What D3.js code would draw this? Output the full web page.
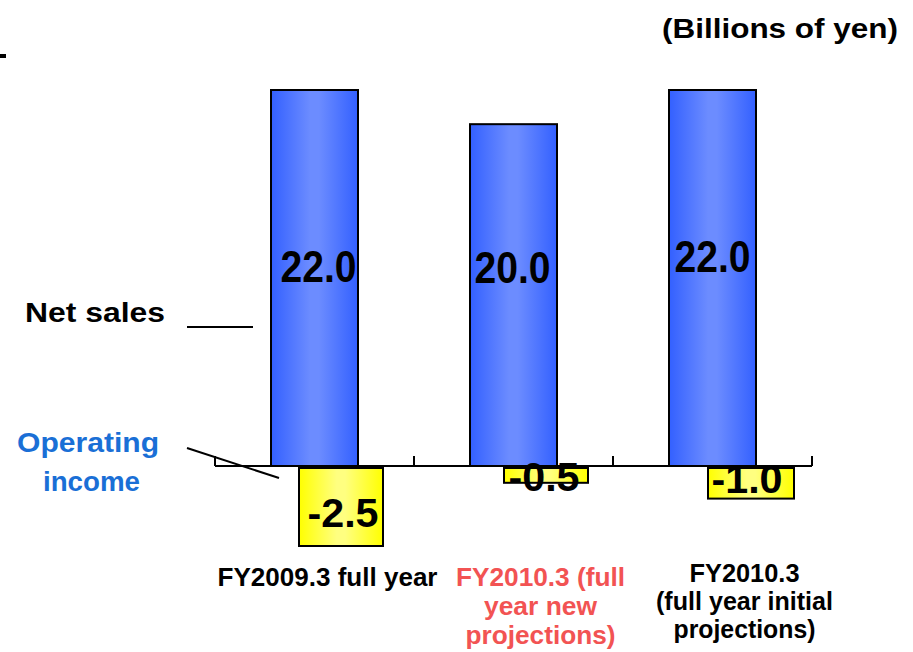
<!DOCTYPE html>
<html>
<head>
<meta charset="utf-8">
<script src="https://cdn.jsdelivr.net/npm/d3@7"></script>
<style>
  html, body { margin: 0; padding: 0; background: #fff; }
  svg { display: block; font-family: Arial, "Liberation Sans", sans-serif; font-weight: bold; }
</style>
</head>
<body>
<div id="chart"></div>
<script>
// data
const categories = ["FY2009.3", "FY2010.3 new", "FY2010.3 initial"];
const categoryLines = [
  ["FY2009.3 full year"],
  ["FY2010.3 (full", "year new", "projections)"],
  ["FY2010.3", "(full year initial", "projections)"]
];
const netSales = [22.0, 20.0, 22.0];
const operatingIncome = [-2.5, -0.5, -1.0];

// layout (pixels)
const W = 913, H = 652;
const baseY = 466;
const blueDx = 56, blueW = 87;
const yellowDx = [84, 90, 95], yellowW = [84, 84, 86];
const salesLabelY = [282, 283, 272];
const salesLabelDx = [4, -1, 0];
const incomeLabelY = [527, 491, 493];
const incomeLabelDx = [2, -2, -4];
const catDx = [13, 27, 32];
const catY = [586, 586, 582];
const catLineH = [0, 29, 28];
const catWidths = [[220], [169, 113, 150], [110, 177, 142]];
const catColor = ["#000", "#f25353", "#000"];

const fmt = d3.formatLocale({ decimal: ".", thousands: ",", grouping: [3], currency: ["", ""], minus: "-" }).format(".1f");

const svg = d3.select("#chart").append("svg")
  .attr("width", W).attr("height", H);

const defs = svg.append("defs");
function hGradient(id, edge, mid) {
  const g = defs.append("linearGradient").attr("id", id)
    .attr("x1", 0).attr("x2", 1).attr("y1", 0).attr("y2", 0);
  g.append("stop").attr("offset", "0%").attr("stop-color", edge);
  g.append("stop").attr("offset", "45%").attr("stop-color", mid);
  g.append("stop").attr("offset", "55%").attr("stop-color", mid);
  g.append("stop").attr("offset", "100%").attr("stop-color", edge);
}
hGradient("blueGrad", "#3360ff", "#6c8cff");
hGradient("yellowGrad", "#ffff00", "#ffff80");

const x = d3.scaleBand().domain(categories).range([215, 812]).padding(0);
const ySales = d3.scaleLinear().domain([0, 22]).range([baseY, 90]);
const yIncome = d3.scaleLinear().domain([0, -2.5]).range([baseY + 1, 546]);

// small mark at top-left
svg.append("rect").attr("x", 0).attr("y", 54).attr("width", 6).attr("height", 4).attr("fill", "#000");

// unit
svg.append("text")
  .attr("x", 662).attr("y", 38)
  .attr("font-size", 28)
  .attr("textLength", 236).attr("lengthAdjust", "spacingAndGlyphs")
  .text("(Billions of yen)");

// net sales bars
svg.selectAll("rect.sales").data(netSales).join("rect")
  .attr("class", "sales")
  .attr("x", (d, i) => x(categories[i]) + blueDx)
  .attr("width", blueW)
  .attr("y", d => ySales(d))
  .attr("height", d => ySales(0) - ySales(d))
  .attr("fill", "url(#blueGrad)")
  .attr("stroke", "#000").attr("stroke-width", 2);

// operating income bars
svg.selectAll("rect.income").data(operatingIncome).join("rect")
  .attr("class", "income")
  .attr("x", (d, i) => x(categories[i]) + yellowDx[i])
  .attr("width", (d, i) => yellowW[i])
  .attr("y", yIncome(0) + 1)
  .attr("height", d => yIncome(d) - yIncome(0) - 1)
  .attr("fill", "url(#yellowGrad)")
  .attr("stroke", "#000").attr("stroke-width", 2);

// axis
const axis = d3.axisTop(x).tickSize(10).tickFormat("");
const axisG = svg.append("g").attr("transform", `translate(0,${baseY})`).call(axis);
axisG.select(".domain").attr("d", "M215,0H812").attr("stroke", "#000").attr("stroke-width", 2);
axisG.selectAll(".tick").remove();
[215].concat(categories.map(c => x(c) + x.bandwidth())).forEach(t => {
  axisG.append("line").attr("x1", t).attr("x2", t).attr("y1", 0).attr("y2", -10)
    .attr("stroke", "#000").attr("stroke-width", 2);
});

// value labels
svg.selectAll("text.salesLabel").data(netSales).join("text")
  .attr("class", "salesLabel")
  .attr("x", (d, i) => x(categories[i]) + blueDx + blueW / 2 + salesLabelDx[i])
  .attr("y", (d, i) => salesLabelY[i])
  .attr("text-anchor", "middle")
  .attr("font-size", 44)
  .attr("textLength", 76).attr("lengthAdjust", "spacingAndGlyphs")
  .text(d => fmt(d));

svg.selectAll("text.incomeLabel").data(operatingIncome).join("text")
  .attr("class", "incomeLabel")
  .attr("x", (d, i) => x(categories[i]) + yellowDx[i] + yellowW[i] / 2 + incomeLabelDx[i])
  .attr("y", (d, i) => incomeLabelY[i])
  .attr("text-anchor", "middle")
  .attr("font-size", 40)
  .attr("textLength", 71).attr("lengthAdjust", "spacingAndGlyphs")
  .text(d => fmt(d));

// category labels
categoryLines.forEach((lines, i) => {
  const cx = x(categories[i]) + x.bandwidth() / 2 + catDx[i];
  lines.forEach((line, j) => {
    svg.append("text")
      .attr("x", cx)
      .attr("y", catY[i] + j * catLineH[i])
      .attr("text-anchor", "middle")
      .attr("font-size", 25)
      .attr("fill", catColor[i])
      .attr("textLength", catWidths[i][j]).attr("lengthAdjust", "spacingAndGlyphs")
      .text(line);
  });
});

// legend-like labels
svg.append("text")
  .attr("x", 25).attr("y", 322)
  .attr("font-size", 27)
  .attr("textLength", 140).attr("lengthAdjust", "spacingAndGlyphs")
  .text("Net sales");
svg.append("line")
  .attr("x1", 187).attr("x2", 253).attr("y1", 327).attr("y2", 327)
  .attr("stroke", "#000").attr("stroke-width", 2);

const opColor = "#1a6fd6";
svg.append("text")
  .attr("x", 17).attr("y", 452)
  .attr("font-size", 27).attr("fill", opColor)
  .attr("textLength", 142).attr("lengthAdjust", "spacingAndGlyphs")
  .text("Operating");
svg.append("text")
  .attr("x", 43).attr("y", 491)
  .attr("font-size", 27).attr("fill", opColor)
  .attr("textLength", 97).attr("lengthAdjust", "spacingAndGlyphs")
  .text("income");
svg.append("line")
  .attr("x1", 187).attr("x2", 279).attr("y1", 448).attr("y2", 478)
  .attr("stroke", "#000").attr("stroke-width", 2);
</script>
</body>
</html>
